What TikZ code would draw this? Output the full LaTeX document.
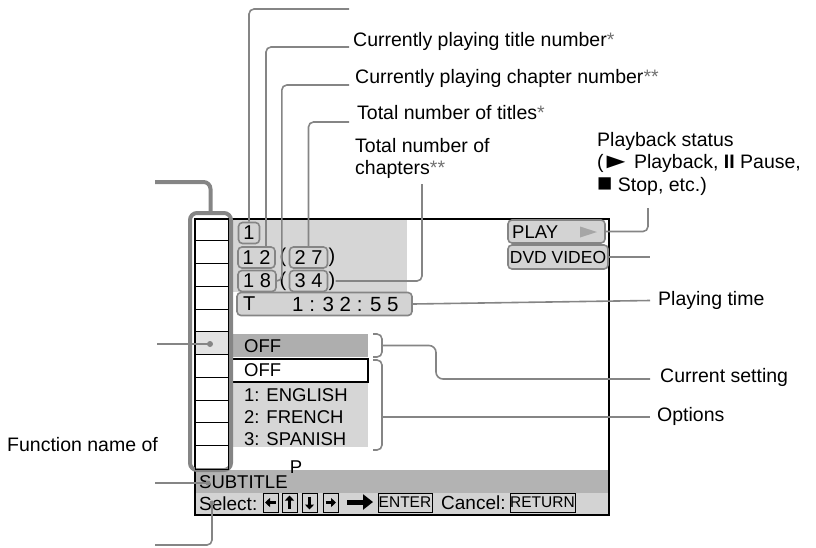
\documentclass[tikz,border=0pt]{standalone}
\usepackage{fontspec}
\setmainfont{Liberation Sans}
\usetikzlibrary{arrows.meta}
\definecolor{callout}{HTML}{858585}
\definecolor{scrgray}{HTML}{D6D6D6}
\definecolor{bargray}{HTML}{B3B3B3}
\definecolor{selgray}{HTML}{D3D3D3}
\definecolor{curgray}{HTML}{AEAEAE}
\definecolor{hlgray}{HTML}{E2E2E2}
\definecolor{boxfill}{HTML}{D3D3D3}
\definecolor{starcol}{HTML}{707070}
\tikzset{
  lbl/.style={anchor=west, inner sep=0pt, font=\fontsize{19.5}{22.5}\selectfont, align=left},
  scr/.style={anchor=west, inner sep=0pt, font=\fontsize{18.5}{20}\selectfont},
  co/.style={draw=callout, line width=1.6pt, rounded corners=5pt},
  cothick/.style={draw=callout, line width=4pt, rounded corners=7pt},
  numbox/.style={draw=callout, line width=1.6pt, fill=boxfill, rounded corners=4pt, inner sep=0pt, minimum height=21pt, font=\fontsize{20}{21}\selectfont},
  keybox/.style={draw=black, line width=0.8pt, inner sep=0pt, minimum width=15pt, minimum height=19pt},
  wordbox/.style={draw=black, line width=0.8pt, inner sep=0pt, minimum height=19pt, font=\fontsize{15.5}{16}\selectfont},
  keyarrow/.style={line width=2.2pt, -{Triangle[length=5pt,width=9pt]}},
  enddot/.style={fill=callout}
}
\newcommand{\st}[1]{\textcolor{starcol}{#1}}
\begin{document}
\begin{tikzpicture}[x=1pt,y=-1pt]
\useasboundingbox (0,0) rectangle (816,547);

% screen backgrounds
\fill[scrgray] (233,219) rectangle (407,292);
\fill[bargray] (195,470) rectangle (609,493);
\fill[selgray] (195,493) rectangle (609,515);
\fill[curgray] (233,334) rectangle (368,357);
\fill[scrgray] (233,382) rectangle (368,447);
\draw[black, fill=white, line width=1.2pt] (229,359) rectangle (368,382);
\draw[black, line width=1.3pt] (195,219) rectangle (609,515);

% left column
\node[draw=callout, line width=4pt, rounded corners=7pt, minimum width=41pt, minimum height=257pt, inner sep=0pt] (col) at (210.5,341.5) {};
\fill[hlgray] (195,331.75) rectangle (228,354.5);
\draw[black, line width=1pt] (195,218) rectangle (228,469);
\foreach \k in {1,...,10} \draw[black, line width=0.9pt] (195,{218+22.75*\k}) -- (228,{218+22.75*\k});
\coordinate (dotc) at (210,344);

% number boxes
\node[numbox, minimum width=21pt] (n1) at (249,233) {1};
\node[numbox, minimum width=37pt] (n12) at (256.5,257.5) {1 2};
\node[scr, font=\fontsize{20}{21}\selectfont] (p27l) at (279.5,257.5) {(};
\node[numbox, minimum width=38pt] (n27) at (308.5,257.5) {2 7};
\node[scr, font=\fontsize{20}{21}\selectfont] (p27r) at (328.5,257.5) {)};
\node[numbox, minimum width=38pt] (n18) at (257,281) {1 8};
\node[scr, font=\fontsize{20}{21}\selectfont] (p34l) at (279.5,281) {(};
\node[numbox, minimum width=38pt] (n34) at (308.5,281) {3 4};
\node[scr, font=\fontsize{20}{21}\selectfont] (p34r) at (328.5,281) {)};
\node[numbox, minimum width=175pt, minimum height=23pt] (tbox) at (324.5,304) {};
\node[scr, font=\fontsize{20}{21}\selectfont] (tT) at (243,304) {T};
\node[scr, font=\fontsize{20.5}{21}\selectfont] (ttime) at (292,304) {1 : 3 2 : 5 5};

% PLAY / DVD VIDEO
\node[numbox, minimum width=97pt, minimum height=23pt] (play) at (556.5,231.5) {};
\node[scr] (playtxt) at (512,232) {PLAY};
\fill[gray!70] (580,226.5) -- (597,232) -- (580,237.5) -- cycle;
\node[numbox, minimum width=100pt, minimum height=24pt, font=\fontsize{17.5}{19}\selectfont] (dvd) at (558,257) {DVD VIDEO};

% setting rows
\node[scr] (off1) at (244,346) {OFF};
\node[scr] (off2) at (244,370.5) {OFF};
\node[scr] (o1) at (244,395) {1: ENGLISH};
\node[scr] (o2) at (244,417) {2: FRENCH};
\node[scr] (o3) at (244,439) {3: SPANISH};

% bottom bar
\node[scr] (subt) at (199,482) {SUBTITLE};
\node[scr, anchor=center] (pp) at (296,467) {P};
\node[scr, font=\fontsize{19}{20}\selectfont] (sel) at (199,504) {Select:};
\node[keybox] (kl) at (270.5,502.5) {};
\node[keybox] (ku) at (289.5,502.5) {};
\node[keybox] (kd) at (309.5,502.5) {};
\node[keybox] (kr) at (330.5,502.5) {};
\draw[keyarrow] ([xshift=5pt]kl.center) -- ([xshift=-5.5pt]kl.center);
\draw[keyarrow] ([yshift=-6pt]ku.center) -- ([yshift=7pt]ku.center);
\draw[keyarrow] ([yshift=6pt]kd.center) -- ([yshift=-7pt]kd.center);
\draw[keyarrow] ([xshift=-5pt]kr.center) -- ([xshift=5.5pt]kr.center);
\draw[line width=5pt, -{Triangle[length=10pt,width=15pt]}] (347,502) -- (373,502);
\node[wordbox, minimum width=54pt] (enter) at (405,502.5) {ENTER};
\node[scr, font=\fontsize{19}{20}\selectfont] (cancel) at (441,503) {Cancel:};
\node[wordbox, minimum width=65pt] (ret) at (542.5,502.5) {RETURN};

% labels
\node[lbl] (L1) at (353,41) {Currently playing title number\st{*}};
\node[lbl] (L2) at (355,78) {Currently playing chapter number\st{**}};
\node[lbl] (L3) at (357,113) {Total number of titles\st{*}};
\node[lbl] (L4) at (355,158.5) {Total number of\\chapters\st{**}};
\node[lbl] (PB) at (597,163.5) {Playback status\\(\hspace{-3pt}\scalebox{1.6}[1.1]{►}\hspace{-3pt} Playback, \textbf{II} Pause,\\\scalebox{1.3}{■} Stop, etc.)};
\node[lbl] (PT) at (658,300.5) {Playing time};
\node[lbl] (CS) at (660,377.5) {Current setting};
\node[lbl] (OP) at (657,416) {Options};
\node[lbl] (FN) at (7,445) {Function name of};

% free ends of callouts
\coordinate (e0) at (349,9);
\coordinate (e5) at (648,208);
\coordinate (e6) at (650,257);
\coordinate (lf1) at (155,182);
\coordinate (lf2) at (157,344);
\coordinate (lf3) at (155,483);
\coordinate (lf4) at (155,545);
\coordinate (subdot) at (208,483);
\coordinate (seldot) at (212,503);

% callouts top
\draw[co] (e0) -| (n1.north);
\draw[co] ([shift={(-4,6)}]L1.west) -| ([xshift=9.5pt]n12.north);
\draw[co] ([shift={(-6,7)}]L2.west) -| ([xshift=5pt]n18.east) -- (n18.east);
\draw[co] ([shift={(-8,9)}]L3.west) -| (n27.north);
\draw[co] ([shift={(67,5)}]L4.south west) |- (p34r.east);
\draw[co] (e5) |- (play.east);
\draw[co] (dvd.east) -- (e6);
\draw[co] (tbox.east) -- ([xshift=-8pt]PT.west);

% brackets
\draw[co] (373,334) -- (382,334) -- (382,357) -- (373,357);
\coordinate (br1) at (382,345.5);
\draw[co] (373,360) -- (382,360) -- (382,450) -- (373,450);
\coordinate (br2) at (382,417);
\draw[co, rounded corners=7pt] (br1) -- (436,345.5) -- (436,379) -- ([xshift=-10pt]CS.west |- 0,379);
\draw[co] (br2) -- ([xshift=-7pt]OP.west |- 0,417);

% left callouts
\draw[cothick] (lf1) -| (col.north);
\draw[co] (lf2) -- (dotc);
\fill[enddot] (dotc) circle (3pt);
\draw[co] (lf3) -- (subdot);
\fill[enddot] (subdot) circle (2.5pt);
\draw[co] (lf4) -| (seldot);
\fill[enddot] (seldot) circle (2.5pt);
\end{tikzpicture}
\end{document}
